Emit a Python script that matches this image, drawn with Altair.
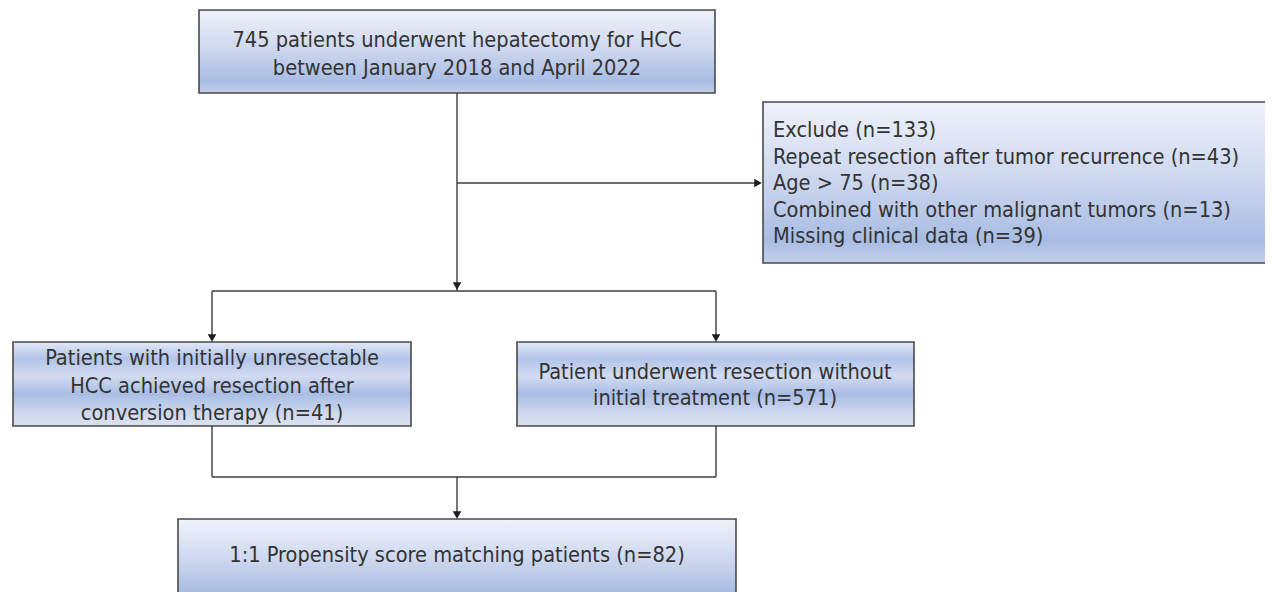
import altair as alt
import pandas as pd

# ---- content ----
box_names = ["top", "exclude", "left", "right", "bottom"]
box_lines = {
    "top": ["745 patients underwent hepatectomy for HCC",
            "between January 2018 and April 2022"],
    "exclude": ["Exclude (n=133)",
                "Repeat resection after tumor recurrence (n=43)",
                "Age > 75 (n=38)",
                "Combined with other malignant tumors (n=13)",
                "Missing clinical data (n=39)"],
    "left": ["Patients with initially unresectable",
             "HCC achieved resection after",
             "conversion therapy (n=41)"],
    "right": ["Patient underwent resection without",
              "initial treatment (n=571)"],
    "bottom": ["1:1 Propensity score matching patients (n=82)"],
}

# ---- layout (pixel geometry of the diagram) ----
layout = {
    "top":     dict(x=199, x2=715, y=10, y2=93, style="a", align="center", tx=457, ty=47, dy=28),
    "exclude": dict(x=763, x2=1290, y=102, y2=263, style="a", align="left", tx=773, ty=137, dy=26.5),
    "left":    dict(x=13, x2=411, y=342, y2=426, style="b", align="center", tx=212, ty=365, dy=27.5),
    "right":   dict(x=517, x2=914, y=342, y2=426, style="b", align="center", tx=715, ty=379, dy=26),
    "bottom":  dict(x=178, x2=736, y=519, y2=604, style="a", align="center", tx=457, ty=562, dy=26),
}
segments = [
    (457, 93, 457, 291), (457, 183, 756, 183), (212, 291, 716, 291),
    (212, 291, 212, 336), (716, 291, 716, 336),
    (212, 426, 212, 477), (716, 426, 716, 477), (212, 477, 716, 477),
    (457, 477, 457, 513),
]
arrows = [
    (758, 183, "triangle-right"), (457, 286, "triangle-down"),
    (212, 338, "triangle-down"), (716, 338, "triangle-down"),
    (457, 515, "triangle-down"),
]

FONT = "DejaVu Sans Condensed, DejaVu Sans"
FS = 21.6

boxes_df = pd.DataFrame([dict(name=n, **{k: layout[n][k] for k in ("x", "x2", "y", "y2", "style")}) for n in box_names])
text_rows = []
for n in box_names:
    L = layout[n]
    for i, t in enumerate(box_lines[n]):
        text_rows.append(dict(name=n, text=t, x=L["tx"], y=L["ty"] + i * L["dy"], align=L["align"]))
text_df = pd.DataFrame(text_rows)
seg_df = pd.DataFrame(segments, columns=["x", "y", "x2", "y2"])
arr_df = pd.DataFrame(arrows, columns=["x", "y", "shape"])

xs = alt.Scale(domain=[8, 1265], nice=False, zero=False)
ys = alt.Scale(domain=[8, 592], nice=False, zero=False, reverse=True)
X = lambda f="x": alt.X(f"{f}:Q", scale=xs, axis=None)
Y = lambda f="y": alt.Y(f"{f}:Q", scale=ys, axis=None)

grad_a = alt.LinearGradient(gradient="linear", x1=0, x2=0, y1=0, y2=1, stops=[
    alt.GradientStop(color="#eff2fa", offset=0),
    alt.GradientStop(color="#cbd6ee", offset=0.5),
    alt.GradientStop(color="#a8bce3", offset=0.86),
    alt.GradientStop(color="#c4d0eb", offset=1),
])
grad_b = alt.LinearGradient(gradient="linear", x1=0, x2=0, y1=0, y2=1, stops=[
    alt.GradientStop(color="#e1e8f6", offset=0),
    alt.GradientStop(color="#b2c4e8", offset=0.2),
    alt.GradientStop(color="#d2dcf1", offset=0.4),
    alt.GradientStop(color="#a9bde4", offset=0.62),
    alt.GradientStop(color="#d1daee", offset=0.86),
    alt.GradientStop(color="#d9e0f0", offset=1),
])

base = alt.Chart(boxes_df)
rect_a = base.transform_filter(alt.datum.style == "a").mark_rect(
    fill=grad_a, stroke="#4a4a4a", strokeWidth=1.6, clip=True
).encode(x=X("x"), x2="x2:Q", y=Y("y"), y2="y2:Q")
rect_b = base.transform_filter(alt.datum.style == "b").mark_rect(
    fill=grad_b, stroke="#4a4a4a", strokeWidth=1.6, clip=True
).encode(x=X("x"), x2="x2:Q", y=Y("y"), y2="y2:Q")

lines = alt.Chart(seg_df).mark_rule(color="#3c3c3c", strokeWidth=1.4).encode(
    x=X("x"), x2="x2:Q", y=Y("y"), y2="y2:Q")

arrow_marks = alt.Chart(arr_df).mark_point(filled=True, color="#1e1e1e", size=75, opacity=1).encode(
    x=X("x"), y=Y("y"), shape=alt.Shape("shape:N", scale=None))

txt_c = alt.Chart(text_df).transform_filter(alt.datum.align == "center").mark_text(
    font=FONT, fontSize=FS, color="#333333", align="center", baseline="alphabetic"
).encode(x=X("x"), y=Y("y"), text="text:N")
txt_l = alt.Chart(text_df).transform_filter(alt.datum.align == "left").mark_text(
    font=FONT, fontSize=FS, color="#333333", align="left", baseline="alphabetic"
).encode(x=X("x"), y=Y("y"), text="text:N")

chart = alt.layer(rect_a, rect_b, lines, arrow_marks, txt_c, txt_l).properties(
    width=1257, height=584, padding=0, autosize=alt.AutoSizeParams(type="none")
).configure_view(stroke=None)

chart.save("out.html", embed_options={"renderer": "svg", "actions": False})
